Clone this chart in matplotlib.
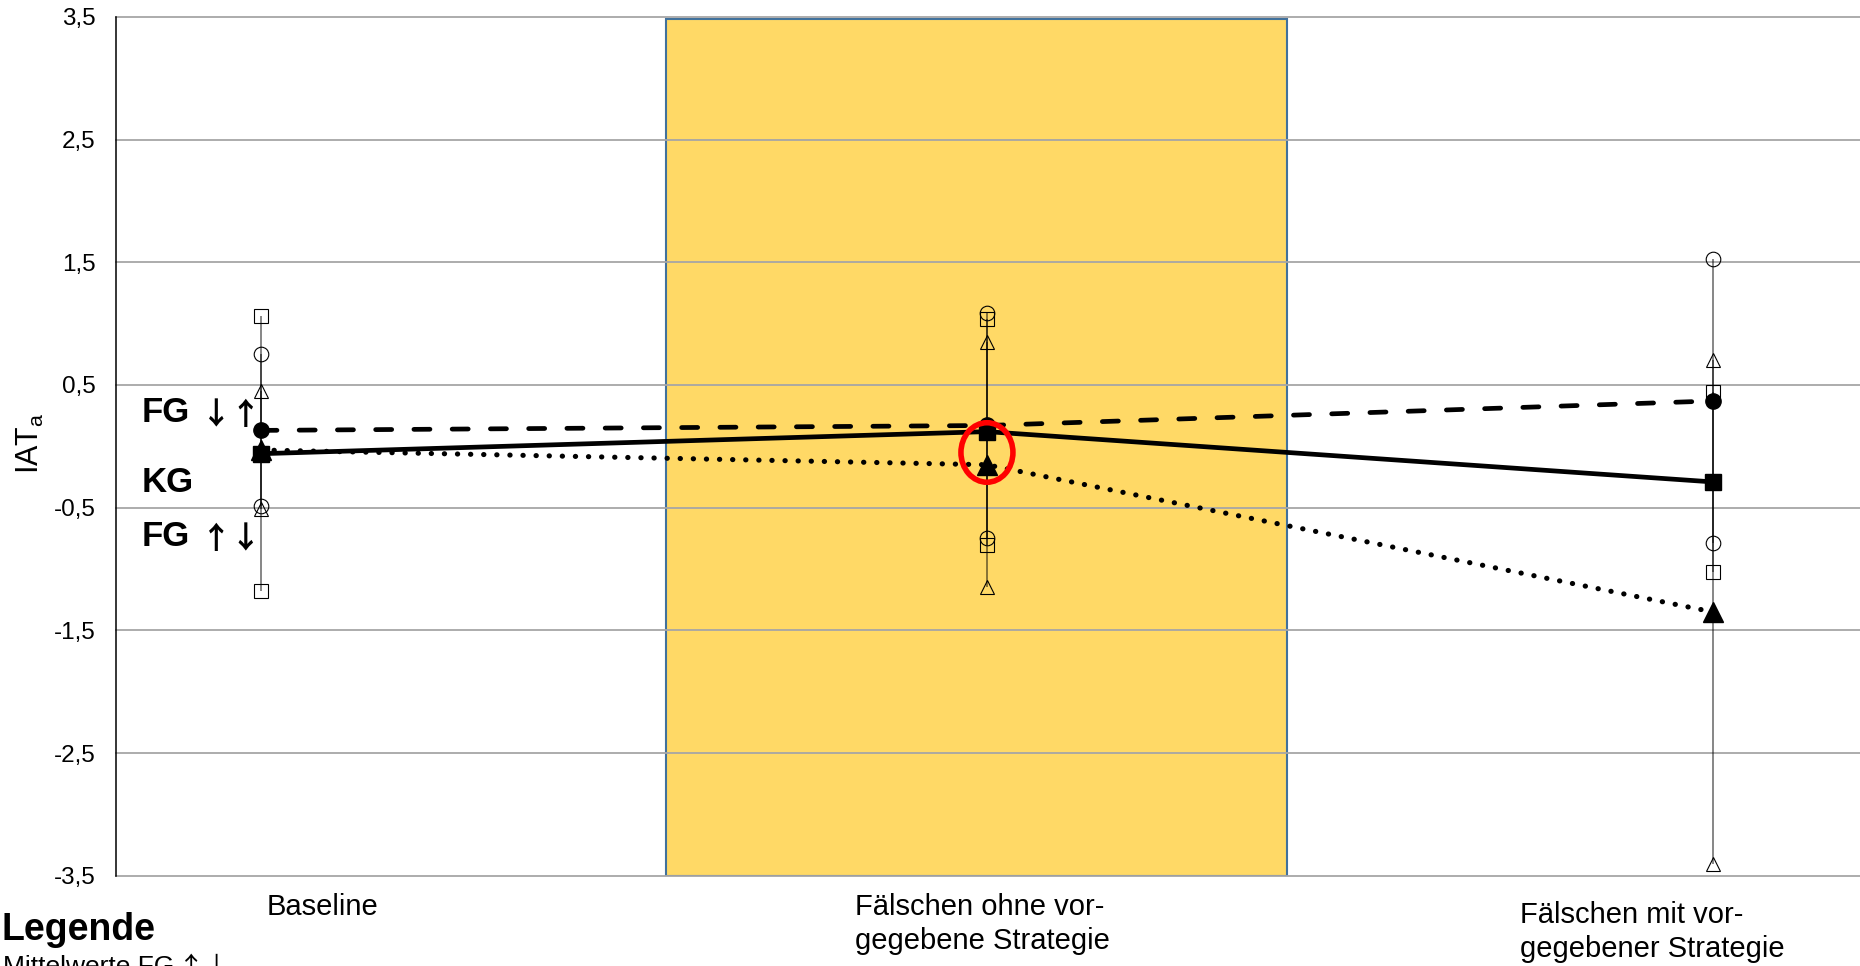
import matplotlib
matplotlib.use("Agg")
import matplotlib.pyplot as plt
from matplotlib.patches import Ellipse, Rectangle

W, H, DPI = 1860, 966, 100

phases = ["Baseline",
          "Fälschen ohne vor-\ngegebene Strategie",
          "Fälschen mit vor-\ngegebener Strategie"]
phase_x = [0, 1, 2]

# group means and standard deviations
fg_down_up_mean = [0.13, 0.17, 0.37]
fg_down_up_sd = [0.62, 0.92, 1.16]
kg_mean = [-0.06, 0.12, -0.29]
kg_sd = [1.12, 0.92, 0.73]
fg_up_down_mean = [-0.03, -0.15, -1.35]
fg_up_down_sd = [0.48, 1.00, 2.05]

y_ticks = [3.5, 2.5, 1.5, 0.5, -0.5, -1.5, -2.5, -3.5]
y_tick_labels = ["3,5", "2,5", "1,5", "0,5", "-0,5", "-1,5", "-2,5", "-3,5"]

highlight_phase = 1

plt.rcParams["font.family"] = ["Liberation Sans", "DejaVu Sans"]
plt.rcParams["mathtext.default"] = "regular"


def px(x, y):
    # pixel position (from top left) -> figure fraction
    return x / W, 1 - y / H


fig = plt.figure(figsize=(W / DPI, H / DPI), dpi=DPI)
left, top, bottom = 115.7, 16.9, 875.8
ax = fig.add_axes([left / W, 1 - bottom / H, (W - left) / W, (bottom - top) / H])
ax.set_xlim(-0.200, 2.2025)
ax.set_ylim(-3.5, 3.5)

# highlighted phase
ax.add_patch(Rectangle((highlight_phase - 0.442, -3.5), 0.855, 6.98,
                       facecolor="#FFD966", edgecolor="#41719C", lw=1.5, zorder=0.5))

for t in y_ticks:
    ax.axhline(t, color="#a6a6a6", lw=1.3, zorder=1, clip_on=False)

for side in ["top", "right", "bottom"]:
    ax.spines[side].set_visible(False)
ax.spines["left"].set_linewidth(1.1)
ax.spines["left"].set_zorder(3)

ax.set_xticks([])
ax.set_yticks(y_ticks)
ax.set_yticklabels(y_tick_labels)
ax.tick_params(axis="y", length=0, pad=14.5, labelsize=17.5)

series = [
    (fg_down_up_mean, fg_down_up_sd, "o", 11, 10.5, dict(ls=(0, (3.4, 4.7)), dash_capstyle="round")),
    (kg_mean, kg_sd, "s", 11, 9.6, dict(ls="-")),
    (fg_up_down_mean, fg_up_down_sd, "^", 14, 9.6, dict(ls=(0, (0.05, 2.5)), dash_capstyle="round", lw=3.7)),
]

for mean, sd, marker, ms, ms_open, style in series:
    lower = [m - s for m, s in zip(mean, sd)]
    upper = [m + s for m, s in zip(mean, sd)]
    ax.vlines(phase_x, lower, upper, color="black", alpha=0.6, lw=1.1, zorder=2)
    for ends in (lower, upper):
        ax.plot(phase_x, ends, ls="none", marker=marker, ms=ms_open,
                mfc="none", mec="black", mew=0.8, zorder=3)

for mean, sd, marker, ms, ms_open, style in series:
    kw = dict(lw=3.4)
    kw.update(style)
    ax.plot(phase_x, mean, color="black", marker=marker, ms=ms,
            mfc="black", mec="black", zorder=4, **kw)

# red mark on the triangle of the second phase
ax.add_patch(Ellipse((phase_x[1], fg_up_down_mean[1] + 0.1), 0.0716, 0.485,
                     fill=False, ec="#FF0000", lw=4, zorder=6))

# category labels (left-aligned text boxes below the axis)
label_pos = [(266.7, 915.4), (855, 915.4), (1520, 923.4)]
line_gap = 34
for text, (lx, ly) in zip(phases, label_pos):
    for i, line in enumerate(text.split("\n")):
        fig.text(*px(lx, ly + i * line_gap), line, fontsize=21, ha="left", va="baseline")

# group labels at the left
arrow_font = ["Noto Sans CJK JP", "DejaVu Sans"]
for name, arrows, base in [("FG", "↓↑", 422), ("KG", "", 492), ("FG", "↑↓", 546)]:
    fig.text(*px(142, base), name, fontsize=25, fontweight="bold", ha="left", va="baseline")
    if arrows:
        fig.text(*px(201, base + 2), arrows, fontsize=22, family=arrow_font,
                 fontweight="bold", ha="left", va="baseline")

fig.text(*px(30, 443), "IAT$_\\mathregular{a}$", fontsize=22, rotation=90,
         ha="center", va="center")

fig.text(*px(1, 940), "Legende", fontsize=27, fontweight="bold", ha="left", va="baseline")
fig.text(*px(3, 974), "Mittelwerte FG", fontsize=19, ha="left", va="baseline")
fig.text(*px(178, 976), "↑↓", fontsize=19, family=arrow_font, ha="left", va="baseline")

fig.savefig("out.png", dpi=DPI)
